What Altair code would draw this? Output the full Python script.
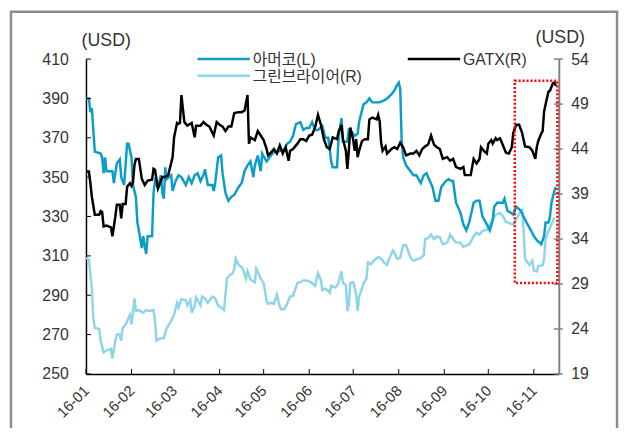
import altair as alt
import pandas as pd

# ---------------- data ----------------
amerco_dates = [
    "2016-01-01", "2016-01-03", "2016-01-04", "2016-01-05", "2016-01-07", "2016-01-11", "2016-01-12",
    "2016-01-13", "2016-01-14", "2016-01-15", "2016-01-19", "2016-01-20", "2016-01-22", "2016-01-24",
    "2016-01-25", "2016-01-27", "2016-01-29", "2016-01-30", "2016-02-01", "2016-02-02", "2016-02-04",
    "2016-02-05", "2016-02-06", "2016-02-08", "2016-02-09", "2016-02-10", "2016-02-11", "2016-02-12",
    "2016-02-15", "2016-02-16", "2016-02-17", "2016-02-19", "2016-02-21", "2016-02-22", "2016-02-23",
    "2016-02-24", "2016-02-25", "2016-02-28", "2016-02-29", "2016-03-02", "2016-03-04", "2016-03-06",
    "2016-03-09", "2016-03-11", "2016-03-13", "2016-03-15", "2016-03-17", "2016-03-19", "2016-03-21",
    "2016-03-22", "2016-03-24", "2016-03-27", "2016-03-28", "2016-03-29", "2016-03-31", "2016-04-02",
    "2016-04-03", "2016-04-05", "2016-04-07", "2016-04-09", "2016-04-11", "2016-04-14", "2016-04-16",
    "2016-04-18", "2016-04-20", "2016-04-22", "2016-04-24", "2016-04-25", "2016-04-27", "2016-04-29",
    "2016-04-30", "2016-05-03", "2016-05-05", "2016-05-07", "2016-05-09", "2016-05-11", "2016-05-15",
    "2016-05-17", "2016-05-19", "2016-05-21", "2016-05-23", "2016-05-26", "2016-05-28", "2016-05-30",
    "2016-06-01", "2016-06-03", "2016-06-05", "2016-06-07", "2016-06-10", "2016-06-12", "2016-06-14",
    "2016-06-16", "2016-06-17", "2016-06-20", "2016-06-21", "2016-06-23", "2016-06-24", "2016-06-27",
    "2016-06-28", "2016-06-30", "2016-07-02", "2016-07-04", "2016-07-05", "2016-07-08", "2016-07-10",
    "2016-07-12", "2016-07-14", "2016-07-17", "2016-07-19", "2016-07-22", "2016-07-24", "2016-07-27",
    "2016-07-29", "2016-07-31", "2016-08-01", "2016-08-02", "2016-08-03", "2016-08-04", "2016-08-06",
    "2016-08-09", "2016-08-11", "2016-08-13", "2016-08-16", "2016-08-18", "2016-08-20", "2016-08-21",
    "2016-08-24", "2016-08-26", "2016-08-28", "2016-08-30", "2016-09-02", "2016-09-04", "2016-09-06",
    "2016-09-07", "2016-09-09", "2016-09-12", "2016-09-14", "2016-09-16", "2016-09-18", "2016-09-21",
    "2016-09-23", "2016-09-25", "2016-09-27", "2016-09-30", "2016-10-02", "2016-10-04", "2016-10-05",
    "2016-10-07", "2016-10-11", "2016-10-12", "2016-10-14", "2016-10-16", "2016-10-18", "2016-10-20",
    "2016-10-23", "2016-10-25", "2016-10-27", "2016-10-30", "2016-11-01", "2016-11-03", "2016-11-06",
    "2016-11-08", "2016-11-09", "2016-11-11", "2016-11-12", "2016-11-13", "2016-11-15", "2016-11-16",
]
amerco_values = [
    390, 390, 383, 385, 363, 362, 360, 352, 360, 353, 353, 347, 357, 359,
    350, 346, 367, 367, 360, 346, 340, 327, 323, 314, 320, 315, 311, 320,
    320, 342, 348, 345, 351, 342, 339, 355, 349, 351, 343, 348, 351, 350,
    346, 350, 347, 351, 352, 348, 351, 354, 346, 346, 343, 347, 360, 361,
    352, 342, 338, 340, 341, 345, 347, 353, 356, 358, 350, 356, 361, 353,
    362, 358, 360, 362, 363, 363, 364, 367, 368, 371, 377, 378, 374, 375,
    375, 378, 374, 374, 376, 370, 370, 358, 355, 355, 370, 380, 368, 368,
    374, 373, 371, 372, 378, 387, 388, 390, 388, 388, 388, 389, 390, 392,
    394, 397, 398, 395, 368, 360, 356, 353, 351, 351, 347, 351, 352, 350,
    345, 338, 338, 345, 348, 349, 348, 348, 337, 332, 326, 323, 327, 337,
    338, 338, 330, 326, 323, 328, 335, 337, 337, 339, 333, 332, 331, 335,
    333, 330, 327, 323, 320, 318, 316, 320, 327, 327, 330, 337, 343, 345,
]

gatx_dates = [
    "2016-01-01", "2016-01-03", "2016-01-04", "2016-01-05", "2016-01-07", "2016-01-10", "2016-01-11",
    "2016-01-12", "2016-01-13", "2016-01-15", "2016-01-18", "2016-01-19", "2016-01-21", "2016-01-22",
    "2016-01-24", "2016-01-25", "2016-01-26", "2016-01-28", "2016-01-29", "2016-01-31", "2016-02-01",
    "2016-02-02", "2016-02-03", "2016-02-04", "2016-02-06", "2016-02-08", "2016-02-10", "2016-02-12",
    "2016-02-15", "2016-02-16", "2016-02-17", "2016-02-19", "2016-02-20", "2016-02-22", "2016-02-24",
    "2016-02-26", "2016-02-29", "2016-03-01", "2016-03-03", "2016-03-04", "2016-03-05", "2016-03-06",
    "2016-03-08", "2016-03-10", "2016-03-13", "2016-03-15", "2016-03-16", "2016-03-19", "2016-03-21",
    "2016-03-23", "2016-03-25", "2016-03-28", "2016-03-30", "2016-04-01", "2016-04-03", "2016-04-05",
    "2016-04-07", "2016-04-09", "2016-04-11", "2016-04-14", "2016-04-16", "2016-04-18", "2016-04-20",
    "2016-04-21", "2016-04-22", "2016-04-25", "2016-04-27", "2016-04-29", "2016-05-01", "2016-05-03",
    "2016-05-04", "2016-05-06", "2016-05-08", "2016-05-10", "2016-05-12", "2016-05-14", "2016-05-16",
    "2016-05-18", "2016-05-19", "2016-05-21", "2016-05-24", "2016-05-26", "2016-05-28", "2016-05-30",
    "2016-06-01", "2016-06-03", "2016-06-05", "2016-06-07", "2016-06-09", "2016-06-11", "2016-06-13",
    "2016-06-15", "2016-06-17", "2016-06-20", "2016-06-21", "2016-06-23", "2016-06-24", "2016-06-26",
    "2016-06-27", "2016-06-28", "2016-06-29", "2016-07-01", "2016-07-02", "2016-07-03", "2016-07-04",
    "2016-07-05", "2016-07-07", "2016-07-09", "2016-07-11", "2016-07-12", "2016-07-14", "2016-07-17",
    "2016-07-18", "2016-07-19", "2016-07-20", "2016-07-21", "2016-07-23", "2016-07-24", "2016-07-27",
    "2016-07-29", "2016-07-31", "2016-08-02", "2016-08-04", "2016-08-06", "2016-08-09", "2016-08-11",
    "2016-08-13", "2016-08-15", "2016-08-17", "2016-08-19", "2016-08-21", "2016-08-23", "2016-08-25",
    "2016-08-27", "2016-08-29", "2016-08-31", "2016-09-03", "2016-09-05", "2016-09-07", "2016-09-09",
    "2016-09-12", "2016-09-14", "2016-09-15", "2016-09-17", "2016-09-19", "2016-09-21", "2016-09-23",
    "2016-09-25", "2016-09-26", "2016-09-28", "2016-09-30", "2016-10-01", "2016-10-03", "2016-10-04",
    "2016-10-06", "2016-10-07", "2016-10-09", "2016-10-11", "2016-10-13", "2016-10-15", "2016-10-17",
    "2016-10-18", "2016-10-20", "2016-10-22", "2016-10-24", "2016-10-26", "2016-10-29", "2016-10-31",
    "2016-11-02", "2016-11-03", "2016-11-04", "2016-11-06", "2016-11-07", "2016-11-08", "2016-11-10",
    "2016-11-11", "2016-11-12", "2016-11-14", "2016-11-15", "2016-11-16",
]
gatx_values = [
    41.5, 41.5, 40.2, 38.7, 36.7, 36.7, 37.1, 37.0, 35.4, 35.5, 35.3, 34.3, 36.5, 37.8,
    37.8, 36.3, 37.9, 37.9, 39.8, 40.2, 39.9, 40.3, 42.2, 42.9, 42.9, 40.7, 40.0, 40.5,
    40.6, 41.8, 41.7, 39.6, 40.0, 40.9, 40.9, 41.1, 43.1, 45.3, 46.9, 46.8, 46.9, 50.0,
    47.0, 46.6, 46.9, 45.3, 46.6, 46.6, 47.0, 46.7, 46.5, 45.5, 47.0, 46.7, 46.5, 46.0,
    46.5, 46.5, 48.0, 48.1, 48.1, 48.3, 50.0, 44.6, 45.3, 45.0, 46.0, 45.5, 45.0, 44.0,
    43.3, 43.6, 44.0, 43.5, 44.4, 43.5, 44.2, 42.7, 43.8, 44.0, 44.6, 45.1, 45.1, 44.9,
    45.5, 45.6, 46.4, 47.8, 46.7, 45.1, 44.2, 44.0, 45.3, 45.1, 45.9, 46.7, 45.1, 43.8,
    41.8, 43.8, 46.4, 45.0, 43.8, 45.1, 43.1, 43.8, 44.9, 45.1, 45.1, 47.3, 47.5, 47.3,
    47.8, 47.1, 44.7, 43.8, 44.3, 43.5, 44.0, 44.2, 44.0, 44.7, 44.2, 43.3, 43.5, 43.5,
    43.8, 43.3, 44.0, 44.3, 44.5, 45.5, 44.5, 44.2, 44.0, 42.9, 43.1, 42.7, 42.9, 42.0,
    41.8, 42.0, 41.1, 41.1, 41.1, 42.9, 42.4, 42.9, 44.2, 43.8, 43.5, 44.6, 45.0, 44.6,
    45.2, 45.0, 45.2, 44.4, 43.6, 43.5, 44.2, 45.8, 46.7, 46.7, 45.8, 44.3, 44.2, 43.8,
    42.9, 44.2, 44.9, 45.7, 46.0, 48.2, 49.7, 50.4, 50.5, 51.3, 51.4, 51.0,
]

greenbrier_dates = [
    "2016-01-01", "2016-01-03", "2016-01-05", "2016-01-06", "2016-01-07", "2016-01-10", "2016-01-11",
    "2016-01-13", "2016-01-15", "2016-01-18", "2016-01-19", "2016-01-21", "2016-01-22", "2016-01-24",
    "2016-01-25", "2016-01-26", "2016-01-28", "2016-01-31", "2016-02-01", "2016-02-02", "2016-02-03",
    "2016-02-04", "2016-02-06", "2016-02-09", "2016-02-11", "2016-02-13", "2016-02-16", "2016-02-17",
    "2016-02-18", "2016-02-20", "2016-02-23", "2016-02-25", "2016-02-28", "2016-03-01", "2016-03-03",
    "2016-03-04", "2016-03-06", "2016-03-09", "2016-03-10", "2016-03-12", "2016-03-13", "2016-03-15",
    "2016-03-16", "2016-03-19", "2016-03-20", "2016-03-22", "2016-03-24", "2016-03-27", "2016-03-29",
    "2016-03-31", "2016-04-02", "2016-04-04", "2016-04-06", "2016-04-08", "2016-04-10", "2016-04-11",
    "2016-04-12", "2016-04-14", "2016-04-16", "2016-04-17", "2016-04-19", "2016-04-20", "2016-04-22",
    "2016-04-25", "2016-04-26", "2016-04-28", "2016-04-29", "2016-05-01", "2016-05-03", "2016-05-04",
    "2016-05-06", "2016-05-08", "2016-05-10", "2016-05-12", "2016-05-13", "2016-05-15", "2016-05-17",
    "2016-05-19", "2016-05-21", "2016-05-24", "2016-05-26", "2016-05-28", "2016-05-30", "2016-06-02",
    "2016-06-05", "2016-06-07", "2016-06-09", "2016-06-10", "2016-06-12", "2016-06-14", "2016-06-15",
    "2016-06-16", "2016-06-19", "2016-06-21", "2016-06-23", "2016-06-24", "2016-06-26", "2016-06-27",
    "2016-06-28", "2016-06-29", "2016-07-01", "2016-07-02", "2016-07-03", "2016-07-04", "2016-07-05",
    "2016-07-07", "2016-07-08", "2016-07-10", "2016-07-11", "2016-07-13", "2016-07-15", "2016-07-18",
    "2016-07-20", "2016-07-22", "2016-07-24", "2016-07-25", "2016-07-28", "2016-07-29", "2016-07-31",
    "2016-08-02", "2016-08-04", "2016-08-06", "2016-08-09", "2016-08-11", "2016-08-13", "2016-08-16",
    "2016-08-18", "2016-08-19", "2016-08-21", "2016-08-23", "2016-08-25", "2016-08-27", "2016-08-29",
    "2016-08-31", "2016-09-03", "2016-09-05", "2016-09-07", "2016-09-09", "2016-09-12", "2016-09-14",
    "2016-09-16", "2016-09-18", "2016-09-21", "2016-09-23", "2016-09-25", "2016-09-27", "2016-09-30",
    "2016-10-02", "2016-10-04", "2016-10-06", "2016-10-09", "2016-10-11", "2016-10-13", "2016-10-15",
    "2016-10-18", "2016-10-20", "2016-10-22", "2016-10-24", "2016-10-25", "2016-10-26", "2016-10-29",
    "2016-10-31", "2016-11-01", "2016-11-03", "2016-11-04", "2016-11-07", "2016-11-08", "2016-11-09",
    "2016-11-11", "2016-11-13", "2016-11-15",
]
greenbrier_values = [
    31.9, 31.7, 28.5, 25.2, 24.1, 24.0, 22.7, 21.4, 21.6, 21.8, 20.7, 22.7, 23.4, 23.4,
    22.7, 24.1, 24.5, 25.6, 24.5, 25.8, 27.4, 26.0, 26.1, 25.8, 26.1, 26.0, 26.1, 24.9,
    22.7, 22.9, 23.0, 24.1, 24.9, 25.6, 26.9, 26.4, 27.3, 27.2, 26.6, 27.2, 25.8, 26.6,
    27.5, 26.6, 27.6, 27.4, 26.9, 27.6, 27.4, 26.6, 26.4, 26.1, 29.6, 30.0, 30.2, 30.7,
    31.8, 31.1, 30.9, 30.6, 29.6, 30.4, 29.5, 29.2, 30.7, 30.0, 29.6, 29.1, 27.1, 26.8,
    26.9, 26.8, 27.8, 26.5, 26.2, 26.2, 26.8, 27.6, 27.7, 29.1, 29.2, 29.4, 29.4, 29.2,
    28.8, 30.2, 29.4, 28.3, 28.5, 28.2, 28.0, 28.8, 28.6, 29.1, 30.4, 29.1, 28.9, 26.0,
    26.7, 29.1, 29.2, 28.6, 27.8, 26.0, 27.6, 28.5, 29.1, 29.6, 31.4, 31.2, 31.6, 32.0,
    31.8, 31.4, 31.1, 31.6, 32.7, 32.5, 31.8, 31.9, 33.3, 33.3, 31.9, 31.6, 31.7, 31.9,
    32.2, 34.0, 34.1, 34.5, 34.0, 34.3, 34.2, 33.4, 33.6, 34.5, 34.0, 33.6, 33.6, 33.1,
    33.3, 33.4, 34.3, 34.7, 34.5, 34.9, 35.0, 35.6, 36.2, 36.7, 36.9, 36.5, 35.9, 35.8,
    35.6, 36.2, 36.8, 37.2, 35.0, 31.8, 31.1, 31.6, 30.5, 30.4, 31.0, 31.1, 31.8, 34.0,
    34.9, 35.6, 36.4,
]

series_names = ["아머코(L)", "GATX(R)", "그린브라이어(R)"]
series_colors = ["#0A9DC8", "#000000", "#8ED5E8"]

left_ticks = [250, 270, 290, 310, 330, 350, 370, 390, 410]
right_ticks = [19, 24, 29, 34, 39, 44, 49, 54]
month_ticks = ["2016-01-01", "2016-02-01", "2016-03-01", "2016-04-01", "2016-05-01", "2016-06-01",
               "2016-07-01", "2016-08-01", "2016-09-01", "2016-10-01", "2016-11-01"]
x_domain = ["2016-01-01", "2016-11-18"]
unit_title = "(USD)"

# highlighted window (red dotted box), in dates and right-axis values
box_dates = ["2016-10-19", "2016-11-17"]
box_values = [29.1, 51.6]

# ---------------- helpers ----------------
FONT = "Liberation Sans, Noto Sans CJK KR, sans-serif"
TEXT_COLOR = "#333333"
W, H = 479, 319


def dt(s):
    y, m, d = (int(p) for p in s.split("-"))
    return alt.DateTime(year=y, month=m, date=d, utc=True)


xscale = alt.Scale(type="utc", domain=[dt(s) for s in x_domain])
left_scale = alt.Scale(domain=[left_ticks[0], left_ticks[-1]], nice=False, zero=False)
right_scale = alt.Scale(domain=[right_ticks[0], right_ticks[-1]], nice=False, zero=False)

x_axis = alt.Axis(
    values=[dt(s) for s in month_ticks], format="%y-%m", labelAngle=-45, labelAlign="right",
    labelBaseline="middle", labelFontSize=15, labelFont=FONT, labelColor=TEXT_COLOR,
    labelPadding=14, labelFlush=False, labelOverlap=False, ticks=False, grid=False,
    domainColor="#000000", domainWidth=1.5, title=None,
)
left_axis = alt.Axis(
    values=left_ticks, ticks=False, grid=False, labelPadding=18, labelFontSize=16, labelFont=FONT,
    labelColor=TEXT_COLOR, labelFlush=False, domainColor="#000000", domainWidth=1.5,
    title=unit_title, titleAngle=0, titleX=20, titleY=-19, titleAlign="center",
    titleBaseline="middle", titleFontSize=18, titleFont=FONT, titleFontWeight="normal",
    titleColor=TEXT_COLOR,
)
right_axis = alt.Axis(
    orient="right", values=right_ticks, ticks=False, grid=False, labelPadding=12, labelFontSize=16,
    labelFont=FONT, labelColor=TEXT_COLOR, labelFlush=False, domainColor="#808080", domainWidth=2,
    title=unit_title, titleAngle=0, titleX=1, titleY=-22, titleAlign="center",
    titleBaseline="middle", titleFontSize=18, titleFont=FONT, titleFontWeight="normal",
    titleColor=TEXT_COLOR,
)

amerco_df = pd.DataFrame({"date": amerco_dates, "value": amerco_values})
gatx_df = pd.DataFrame({"date": gatx_dates, "value": gatx_values})
green_df = pd.DataFrame({"date": greenbrier_dates, "value": greenbrier_values})


def line(df, color, scale, axis):
    return alt.Chart(df).mark_line(strokeWidth=2.5, color=color).encode(
        x=alt.X("date:T", scale=xscale, axis=x_axis),
        y=alt.Y("value:Q", scale=scale, axis=axis),
    )


# ---- right-scale group 1: 그린브라이어 (bottom-most line) + right axis ticks
green_line = line(green_df, series_colors[2], right_scale, right_axis)
right_tick_rules = alt.Chart(pd.DataFrame({"value": right_ticks})).mark_rule(
    color="#808080", strokeWidth=1.5
).encode(y=alt.Y("value:Q", scale=right_scale, axis=right_axis), x=alt.value(W - 5), x2=alt.value(W + 4))
layer_green = alt.layer(green_line, right_tick_rules)

# ---- left-scale group: 아머코 + left/bottom inward ticks + frame + legend
amerco_line = line(amerco_df, series_colors[0], left_scale, left_axis)
left_tick_rules = alt.Chart(pd.DataFrame({"value": left_ticks})).mark_rule(
    color="#000000", strokeWidth=1
).encode(y=alt.Y("value:Q", scale=left_scale, axis=left_axis), x=alt.value(0), x2=alt.value(5))
x_tick_rules = alt.Chart(pd.DataFrame({"date": month_ticks})).mark_rule(
    color="#000000", strokeWidth=1
).encode(x=alt.X("date:T", scale=xscale, axis=x_axis), y=alt.value(H - 5), y2=alt.value(H))
frame = alt.Chart(pd.DataFrame({"k": [0]})).mark_rect(
    fillOpacity=0, stroke="#8C8C8C", strokeWidth=2.5
).encode(x=alt.value(-76), x2=alt.value(538), y=alt.value(-48), y2=alt.value(H + 60))

legend_layers = []
legend_slots = [(113, 0), (326, 0), (113, 17)]  # (x, y) of each legend entry in the plot frame
for name, color, (lx, ly) in zip(series_names, series_colors, legend_slots):
    legend_layers.append(
        alt.Chart(pd.DataFrame({"k": [0]})).mark_rule(color=color, strokeWidth=2.5).encode(
            x=alt.value(lx), x2=alt.value(lx + 53), y=alt.value(ly), y2=alt.value(ly)
        )
    )
    legend_layers.append(
        alt.Chart(pd.DataFrame({"k": [0]})).mark_text(
            align="left", baseline="middle", fontSize=16, font=FONT, color=TEXT_COLOR
        ).encode(x=alt.value(lx + 56), y=alt.value(ly + 1), text=alt.value(name))
    )

layer_amerco = alt.layer(amerco_line, left_tick_rules, x_tick_rules, frame, *legend_layers)

# ---- right-scale group 2: GATX (top-most line) + highlight box
gatx_line = line(gatx_df, series_colors[1], right_scale, None)
box_df = pd.DataFrame({"start": [box_dates[0]], "end": [box_dates[1]],
                       "low": [box_values[0]], "high": [box_values[1]]})
box = alt.Chart(box_df).mark_rect(
    fillOpacity=0, stroke="#FF0000", strokeWidth=2.5, strokeDash=[2, 2]
).encode(
    x=alt.X("start:T", scale=xscale, axis=x_axis), x2="end:T",
    y=alt.Y("low:Q", scale=right_scale, axis=None), y2="high:Q",
)
layer_gatx = alt.layer(gatx_line, box)

chart = alt.layer(layer_green, layer_amerco, layer_gatx).resolve_scale(
    y="independent"
).properties(
    width=W, height=H,
    autosize=alt.AutoSizeParams(type="none"),
    padding={"left": 79, "top": 49, "right": 62, "bottom": 52},
    background="#FFFFFF",
).configure_view(strokeWidth=0)

chart.save("out.html", embed_options={"renderer": "svg", "actions": False})
